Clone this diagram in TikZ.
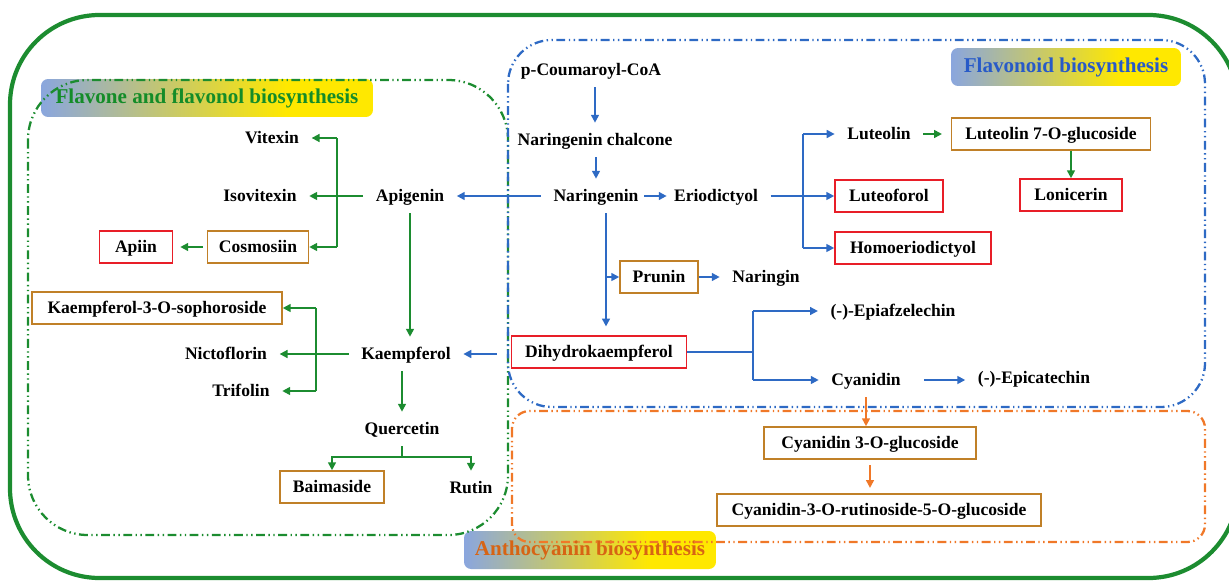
\documentclass[tikz,border=0pt]{standalone}
\usepackage{fontspec}
\setmainfont{Liberation Serif}
\usepackage{xcolor}
\usepackage{tikz}
\usetikzlibrary{arrows.meta}
\definecolor{pgreen}{RGB}{28,140,48}
\definecolor{pblue}{RGB}{46,106,196}
\definecolor{porange}{RGB}{240,120,40}
\definecolor{bred}{RGB}{232,30,40}
\definecolor{bbrown}{RGB}{192,128,40}
\definecolor{lblue}{RGB}{138,166,222}
\definecolor{lyellow}{RGB}{255,232,0}
\definecolor{tgreen}{RGB}{20,140,40}
\definecolor{tblue}{RGB}{40,90,200}
\definecolor{torange}{RGB}{215,100,20}
\pgfdeclarehorizontalshading{tagshade}{100bp}{color(0bp)=(lblue); color(25bp)=(lblue); color(62bp)=(lyellow); color(100bp)=(lyellow)}

\begin{document}
\begin{tikzpicture}[x=0.02cm,y=-0.02cm,
  met/.style={font=\bfseries, inner xsep=7pt, inner ysep=4.5pt, text height=8.3pt, text depth=2pt},
  redbox/.style={met, draw=bred, line width=0.9pt, inner xsep=2pt, inner ysep=3.5pt, minimum height=0.64cm},
  brownbox/.style={met, draw=bbrown, line width=0.9pt, inner xsep=2pt, inner ysep=3.5pt, minimum height=0.64cm},
  tag/.style={shade, shading=tagshade, rounded corners=4pt, font=\bfseries\fontsize{12}{14}\selectfont, minimum height=0.76cm},
  region/.style={line width=1.3pt, dash pattern=on 5pt off 2pt on 0.8pt off 2pt on 0.8pt off 2pt},
  gl/.style={pgreen, line width=1pt},
  ga/.style={gl, -{Triangle[length=4.5pt,width=4.5pt]}},
  bl/.style={pblue, line width=1pt},
  ba/.style={bl, -{Triangle[length=4.5pt,width=4.5pt]}},
  oa/.style={porange, line width=1pt, -{Triangle[length=4.5pt,width=4.5pt]}}]
\useasboundingbox (0,0) rectangle (1229,581);
\draw[pgreen, line width=2.4pt, rounded corners=51pt] (10,15) rectangle (1238,578);

\node[tag, minimum width=6.64cm, text=tgreen] (tagflv) at (207,98) {Flavone and flavonol biosynthesis};
\node[tag, minimum width=4.6cm, text=tblue] (tagfld) at (1066,67) {Flavonoid biosynthesis};
\node[tag, minimum width=5.04cm, text=torange] (tagant) at (590,550) {Anthocyanin biosynthesis};

\draw[region, pgreen, rounded corners=34pt] (28,80) rectangle (508,535);
\draw[region, pblue, rounded corners=25pt] (508,40) rectangle (1205,407);
\draw[region, porange, rounded corners=10pt] (512,411) rectangle (1205,542);

% flavonoid part
\node[met] (pcoum) at (591,70) {p-Coumaroyl-CoA};
\node[met] (chalc) at (595,140) {Naringenin chalcone};
\node[met] (narin) at (596,196) {Naringenin};
\node[met] (eriod) at (716,196) {Eriodictyol};
\node[met] (luteol) at (879,134) {Luteolin};
\node[brownbox, minimum width=3.98cm] (lut7g) at (1051,134) {Luteolin 7-O-glucoside};
\node[redbox, minimum width=2.16cm] (luteof) at (889,196) {Luteoforol};
\node[redbox, minimum width=2.04cm] (lonic) at (1071,195) {Lonicerin};
\node[redbox, minimum width=3.12cm] (homoe) at (913,248) {Homoeriodictyol};
\node[brownbox, minimum width=1.56cm] (prunin) at (659,277) {Prunin};
\node[met] (naringin) at (766,277) {Naringin};
\node[redbox, minimum width=3.5cm] (dhk) at (599,352) {Dihydrokaempferol};
\node[met] (epiaf) at (893,311) {(-)-Epiafzelechin};
\node[met] (cyan) at (866,380) {Cyanidin};
\node[met] (epicat) at (1034,378) {(-)-Epicatechin};
\node[brownbox, minimum width=4.24cm] (cy3g) at (870,443) {Cyanidin 3-O-glucoside};
\node[brownbox, minimum width=6.48cm] (cy3r) at (879,510) {Cyanidin-3-O-rutinoside-5-O-glucoside};

% flavone and flavonol part
\node[met] (vitexin) at (272,138) {Vitexin};
\node[met] (isovit) at (260,196) {Isovitexin};
\node[met] (apigenin) at (410,196) {Apigenin};
\node[redbox, minimum width=1.46cm] (apiin) at (136,247) {Apiin};
\node[brownbox, minimum width=2.02cm] (cosmos) at (258,247) {Cosmosiin};
\node[brownbox, minimum width=5cm] (k3s) at (157,308) {Kaempferol-3-O-sophoroside};
\node[met] (nicto) at (226,354) {Nictoflorin};
\node[met] (trifol) at (241,391) {Trifolin};
\node[met] (kaemp) at (406,354) {Kaempferol};
\node[met] (querc) at (402,429) {Quercetin};
\node[brownbox, minimum width=2.08cm] (baimas) at (332,487) {Baimaside};
\node[met] (rutin) at (471,488) {Rutin};

\coordinate (apbr) at (337,196);
\coordinate (kbr) at (316,354);
\coordinate (qbr) at (402,457);
\coordinate (ebr) at (803,196);
\coordinate (nbr) at (606,277);
\coordinate (dbr) at (753,352);

\draw[ba] (chalc.north |- pcoum.south) -- (chalc.north);
\draw[ba] (narin.north |- chalc.south) -- (narin.north);
\draw[ba] (narin.west) -- (apigenin.east);
\draw[ba, shorten <=-4pt, shorten >=-3pt] (narin.east) -- (eriod.west);
\draw[bl] (eriod.east) -- (ebr);
\draw[bl] (ebr |- luteol.west) -- (ebr |- homoe.west);
\draw[ba] (ebr |- luteol.west) -- (luteol.west);
\draw[ba] (ebr) -- (luteof.west);
\draw[ba] (ebr |- homoe.west) -- (homoe.west);
\draw[ga, shorten >=5pt] (luteol.east) -- (lut7g.west);
\draw[ga] (lonic.north |- lut7g.south) -- (lonic.north);
\draw[bl] (nbr |- narin.south) -- (nbr);
\draw[ba] (nbr) -- (prunin.west);
\draw[ba, shorten >=5pt] (nbr) -- (nbr |- dhk.north);
\draw[ba] (prunin.east) -- (naringin.west);
\draw[ba, shorten <=8pt] (dhk.west |- kaemp.east) -- (kaemp.east);
\draw[bl, line width=1.6pt] (dhk.east) -- (dbr);
\draw[bl] (dbr |- epiaf.west) -- (dbr |- cyan.west);
\draw[ba] (dbr |- epiaf.west) -- (epiaf.west);
\draw[ba] (dbr |- cyan.west) -- (cyan.west);
\draw[ba, shorten <=6pt] (cyan.east) -- (cyan.east -| epicat.west);
\draw[oa] (cyan.south) -- (cyan.south |- cy3g.north);
\draw[oa, shorten <=3pt, shorten >=3pt] (cy3g.south) -- (cy3g.south |- cy3r.north);

\draw[gl] (apigenin.west) -- (apbr);
\draw[ga] (apbr) -- (isovit.east);
\draw[gl] (apbr |- vitexin.east) -- (apbr |- cosmos.east);
\draw[ga] (apbr |- vitexin.east) -- (vitexin.east);
\draw[ga] (apbr |- cosmos.east) -- (cosmos.east);
\draw[ga, shorten <=2pt, shorten >=4pt] (cosmos.west) -- (apiin.east);
\draw[ga] (apigenin.south) -- (apigenin.south |- kaemp.north);
\draw[gl] (kaemp.west) -- (kbr);
\draw[ga] (kbr) -- (nicto.east);
\draw[gl] (kbr |- k3s.east) -- (kbr |- trifol.east);
\draw[ga] (kbr |- k3s.east) -- (k3s.east);
\draw[ga] (kbr |- trifol.east) -- (trifol.east);
\draw[ga] (kaemp.south -| querc.north) -- (querc.north);
\draw[gl] (querc.south) -- (qbr);
\draw[ga] (qbr) -| (baimas.north);
\draw[ga] (qbr) -| (rutin.north);
\end{tikzpicture}
\end{document}
